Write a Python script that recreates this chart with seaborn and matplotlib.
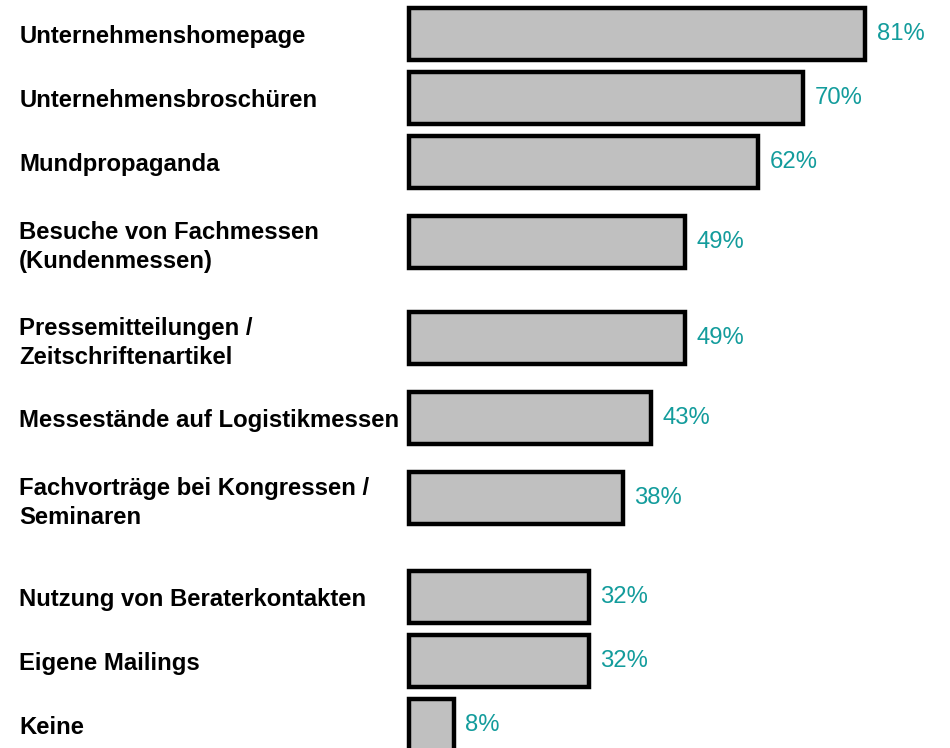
import seaborn as sns
import matplotlib.pyplot as plt
import pandas as pd

# Kategorien und Werte (in %)
labels = [
    'Unternehmenshomepage',
    'Unternehmensbroschüren',
    'Mundpropaganda',
    'Besuche von Fachmessen\n(Kundenmessen)',
    'Pressemitteilungen /\nZeitschriftenartikel',
    'Messestände auf Logistikmessen',
    'Fachvorträge bei Kongressen /\nSeminaren',
    'Nutzung von Beraterkontakten',
    'Eigene Mailings',
    'Keine',
]
values = [81, 70, 62, 49, 49, 43, 38, 32, 32, 8]

# Zeilenpositionen (Layout, zweizeilige Labels bekommen mehr Platz)
rows = [0, 1, 2, 3.25, 4.75, 6, 7.25, 8.8, 9.8, 10.8]

df = pd.DataFrame({'label': labels, 'value': values, 'row': rows})

sns.set_style('white')
plt.rcParams['font.family'] = ['Liberation Sans', 'DejaVu Sans']

fig = plt.figure(figsize=(9.5, 7.48), dpi=100)
ax = fig.add_axes([0.43, 0.0, 0.57, 1.0])

sns.barplot(data=df, x='value', y='row', orient='h', native_scale=True,
            width=0.81, color='#c0c0c0', saturation=1, edgecolor='black',
            linewidth=3.2, errorbar=None, ax=ax)
for bar in ax.patches:
    bar.set_clip_on(False)

# Werte rechts neben den Balken
teal = '#139c9c'
for v, r in zip(df['value'], df['row']):
    ax.annotate(f'{v}%', (v, r), xytext=(8, 0), textcoords='offset points',
                va='center', ha='left', fontsize=17.2, color=teal)

ax.set_xlim(0, 96)
ax.set_ylim(11.16, -0.53)

# Beschriftungen links, linksbündig
ax.set_yticks(rows, labels=labels)
for t in ax.get_yticklabels():
    t.set_ha('left')
    t.set_fontweight('bold')
    t.set_fontsize(17.2)
    t.set_color('black')
    t.set_linespacing(1.32)
ax.tick_params(axis='y', length=0, pad=280.3)
ax.set_xticks([])
ax.set_xlabel('')
ax.set_ylabel('')
for s in ax.spines.values():
    s.set_visible(False)

plt.savefig('out.png', dpi=100)
